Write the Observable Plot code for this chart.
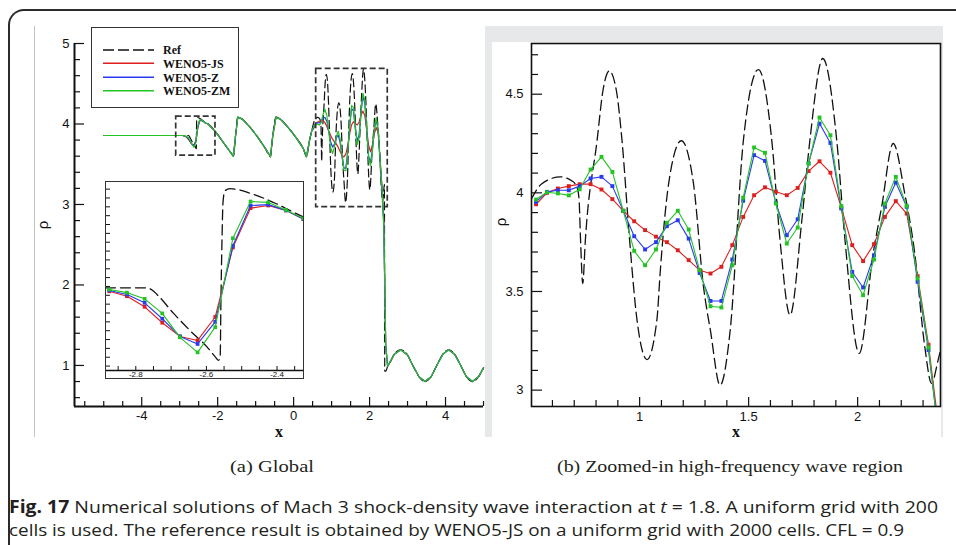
<!DOCTYPE html>
<html>
<head>
<meta charset="utf-8">
<script src="https://cdn.jsdelivr.net/npm/d3@7"></script>
<script src="https://cdn.jsdelivr.net/npm/@observablehq/plot@0.6"></script>
<style>
  html, body { margin:0; padding:0; background:#fff; }
  #root { position:relative; width:956px; height:545px; overflow:hidden; background:#fff; }
  .abs { position:absolute; }
  .frame { position:absolute; left:8px; top:9px; width:1000px; height:600px; border-left:2px solid #2b2b2b; border-top:2px solid #2b2b2b; border-top-left-radius:16px; box-sizing:border-box; }
  .fit { position:absolute; white-space:nowrap; transform-origin:0 50%; line-height:1; color:#231f20; }
  .serif { font-family:"Liberation Serif","Times New Roman",serif; }
  .sans { font-family:"Open Sans","Liberation Sans",sans-serif; }
  svg { display:block; }
  .lab { position:absolute; transform:translate(-50%,-50%); line-height:1; color:#111; }
</style>
</head>
<body>
<div id="root">
  <div class="frame"></div>
  <div class="abs" style="left:34px;top:26px;width:1px;height:411px;background:#c4c4c4"></div>
  <div class="abs" style="left:485px;top:26px;width:458px;height:411px;background:#e7e8ea"></div>
  <div class="abs" style="left:492px;top:42px;width:449px;height:395px;background:#fff"></div>
  <div id="mainPlot" class="abs" style="left:0;top:0;width:490px;height:440px"></div>
  <div id="insetPlot" class="abs" style="left:105px;top:181px;width:199px;height:198px"></div>
  <div id="legend" class="abs" style="left:91px;top:27px;width:148px;height:81px"></div>
  <div id="zoomPlot" class="abs" style="left:492px;top:42px;width:449px;height:395px"></div>

  <div class="lab" style="left:42px;top:225px;transform:translate(-50%,-50%) rotate(-90deg);font:15px 'Liberation Sans',Arial,sans-serif">ρ</div>
  <div class="lab serif" style="left:279px;top:432px;font-weight:bold;font-size:16px">x</div>
  <div class="lab" style="left:500px;top:222px;transform:translate(-50%,-50%) rotate(-90deg);font:15px 'Liberation Sans',Arial,sans-serif">ρ</div>
  <div class="lab serif" style="left:736px;top:432px;font-weight:bold;font-size:16px">x</div>

  <div class="fit serif" data-w="84" style="left:230px;top:458px;font-size:17px">(a) Global</div>
  <div class="fit serif" data-w="346" style="left:557px;top:458px;font-size:17px">(b) Zoomed-in high-frequency wave region</div>
  <div class="fit sans" data-w="929" style="left:9px;top:498px;font-size:17px"><b>Fig. 17</b> Numerical solutions of Mach 3 shock-density wave interaction at <i>t</i> = 1.8. A uniform grid with 200</div>
  <div class="fit sans" data-w="895" style="left:9px;top:521px;font-size:17px">cells is used. The reference result is obtained by WENO5-JS on a uniform grid with 2000 cells. CFL = 0.9</div>
</div>
<script>
// ---------------- data ----------------
const schemes = ["WENO5-JS", "WENO5-Z", "WENO5-ZM"];
const schemeColors = ["#de1f1f", "#2a3af2", "#22c322"];
const refLabel = "Ref";

// undisturbed pre-shock state (global view)
const leftX = [-5.0, -2.925];
const leftY = [3.857, 3.857];

// cells shown in the inset of panel (a)
const insetX  = [-2.875, -2.825, -2.775, -2.725, -2.675, -2.625, -2.575, -2.525, -2.475, -2.425, -2.375, -2.325];
const insetJS = [3.849, 3.838, 3.814, 3.778, 3.747, 3.738, 3.791, 3.948, 4.037, 4.043, 4.032, 4.012];
const insetZ  = [3.851, 3.842, 3.823, 3.787, 3.747, 3.730, 3.780, 3.952, 4.043, 4.045, 4.032, 4.012];
const insetZM = [3.853, 3.846, 3.832, 3.799, 3.745, 3.711, 3.768, 3.969, 4.052, 4.050, 4.033, 4.014];

// reference solution around the first wave (inset)
const refInsetX = [-2.886, -2.768, -2.754, -2.740, -2.693, -2.646, -2.599, -2.576, -2.566, -2.561, -2.559, -2.556, -2.553, -2.548, -2.533, -2.505, -2.477, -2.439, -2.402, -2.364, -2.320];
const refInsetY = [3.857, 3.857, 3.852, 3.842, 3.799, 3.760, 3.724, 3.702, 3.693, 3.700, 3.821, 3.960, 4.050, 4.076, 4.081, 4.078, 4.071, 4.060, 4.047, 4.032, 4.015];

// smooth sawtooth waves between the inset and the zoomed region (all solutions coincide)
const waveX = [-2.25, -2.05, -1.85, -1.65, -1.585, -1.53, -1.47, -1.35, -1.15, -0.95, -0.75, -0.61, -0.55, -0.465, -0.35, -0.15, 0.05, 0.25, 0.34, 0.42, 0.475];
const waveY = [4.00, 3.90, 3.77, 3.64, 3.60, 3.85, 4.085, 4.06, 3.96, 3.84, 3.70, 3.594, 3.85, 4.085, 4.06, 3.96, 3.84, 3.70, 3.594, 3.80, 3.91];

// cells of the high-frequency region, panel (b)
const zoomX  = [0.525, 0.575, 0.625, 0.675, 0.725, 0.775, 0.825, 0.875, 0.925, 0.975,
                1.025, 1.075, 1.125, 1.175, 1.225, 1.275, 1.325, 1.375, 1.425, 1.475,
                1.525, 1.575, 1.625, 1.675, 1.725, 1.775, 1.825, 1.875, 1.925, 1.975,
                2.025, 2.075, 2.125, 2.175, 2.225, 2.275, 2.325, 2.375];
const zoomJS = [3.942, 4.000, 4.022, 4.034, 4.044, 4.044, 4.017, 3.968, 3.909, 3.856,
                3.811, 3.778, 3.750, 3.709, 3.659, 3.608, 3.591, 3.625, 3.735, 3.878,
                3.988, 4.028, 4.006, 3.988, 4.025, 4.110, 4.160, 4.102, 3.925, 3.735,
                3.654, 3.740, 3.878, 3.958, 3.895, 3.578, 3.230, 2.780];
const zoomZ  = [3.954, 4.005, 4.013, 4.013, 4.034, 4.073, 4.081, 4.034, 3.909, 3.780,
                3.713, 3.750, 3.831, 3.861, 3.768, 3.594, 3.452, 3.452, 3.662, 3.960,
                4.191, 4.162, 3.949, 3.785, 3.866, 4.149, 4.351, 4.253, 3.921, 3.599,
                3.520, 3.684, 3.929, 4.052, 3.929, 3.549, 3.203, 2.740];
const zoomZM = [3.966, 4.003, 3.997, 3.987, 4.018, 4.118, 4.182, 4.106, 3.909, 3.706,
                3.633, 3.713, 3.848, 3.909, 3.814, 3.608, 3.425, 3.419, 3.633, 3.976,
                4.230, 4.203, 3.946, 3.743, 3.824, 4.149, 4.382, 4.292, 3.932, 3.578,
                3.481, 3.662, 3.946, 4.081, 3.934, 3.566, 3.216, 2.730];

// reference solution in the high-frequency region
const refZoomX = [0.504, 0.55, 0.637, 0.69, 0.712, 0.722, 0.729, 0.739, 0.751, 0.805, 0.832, 0.861, 0.893, 0.919, 0.954,
                  0.988, 1.034, 1.079, 1.095, 1.133, 1.191, 1.247, 1.293, 1.325, 1.369, 1.415, 1.476, 1.545, 1.606, 1.644,
                  1.690, 1.744, 1.781, 1.840, 1.904, 1.942, 2.007, 2.071, 2.110, 2.163, 2.216, 2.262, 2.308, 2.339, 2.369, 2.390];
const refZoomY = [3.97, 4.045, 4.081, 4.06, 4.03, 3.97, 3.76, 3.54, 3.76, 4.267, 4.52, 4.618, 4.52, 4.267, 3.76,
                  3.355, 3.155, 3.355, 3.608, 4.047, 4.264, 4.047, 3.523, 3.30, 3.025, 3.30, 4.267, 4.625, 4.267, 3.76,
                  3.380, 3.861, 4.267, 4.681, 4.267, 3.76, 3.186, 3.693, 3.929, 4.25, 3.997, 3.693, 3.219, 3.034, 3.152, 3.25];

// shock and post-shock sine wave
const shockNumX = [2.425];
const shockNumY = [1.25];
const shockRefX = [2.400, 2.430];
const shockRefY = [0.93, 0.93];
const postX = [2.475, 2.55, 2.65, 2.82, 3.00, 3.14, 3.30, 3.46, 3.62, 3.77, 3.93, 4.08, 4.24, 4.40, 4.55, 4.71, 4.87, 5.00];
const postY = [0.99, 1.05, 1.14, 1.195, 1.13, 1.00, 0.86, 0.80, 0.86, 1.00, 1.14, 1.195, 1.14, 1.00, 0.86, 0.80, 0.86, 0.97];

// dashed boxes of panel (a): [x1, x2, y1, y2]
const insetBox = [-3.092, -2.058, 3.608, 4.092];
const zoomBox  = [0.594, 2.479, 2.966, 4.685];

// tick labels
const mainXTicks  = [-4, -2, 0, 2, 4];
const mainYTicks  = [1, 2, 3, 4, 5];
const insetXTicks = [-2.8, -2.6, -2.4];
const zoomXTicks  = [1, 1.5, 2];
const zoomYTicks  = [3, 3.5, 4, 4.5];

// ---------------- helpers ----------------
const zip = (xs, ys) => xs.map((x, i) => ({x, y: ys[i]}));
const minor = (a, b, step, majors) => d3.range(Math.round((b - a) / step) + 1)
  .map(i => +(a + i * step).toFixed(4))
  .filter(v => !majors.some(m => Math.abs(m - v) < 1e-6));
const fmt = d => String(d);
const tickFont = "'Liberation Sans', Arial, Helvetica, sans-serif";
const baseStyle = fs => `background:transparent;max-width:none;overflow:visible;font-family:${tickFont};font-size:${fs}px;color:#111;`;
const inX = (vals, size, extra = {}) => Plot.axisX(vals, {tickSize: -size, tickFormat: () => "", label: null, strokeWidth: 1.2, ...extra});
const inY = (vals, size, extra = {}) => Plot.axisY(vals, {tickSize: -size, tickFormat: () => "", label: null, strokeWidth: 1.2, ...extra});

const insetVals = [insetJS, insetZ, insetZM];
const zoomVals = [zoomJS, zoomZ, zoomZM];

// ---------------- panel (a): global ----------------
const xMin = -5.77, xMax = 5.0, yMin = 0.49, yMax = 5.0;
const refGlobal = [
  ...zip([leftX[0]], [leftY[0]]), ...zip(refInsetX, refInsetY), ...zip(waveX, waveY),
  ...zip(refZoomX, refZoomY), ...zip(shockRefX, shockRefY), ...zip(postX, postY)
];
const numGlobal = schemes.map((s, i) => [
  ...zip(leftX, leftY), ...zip(insetX, insetVals[i]), ...zip(waveX, waveY),
  ...zip(zoomX, zoomVals[i]), ...zip(shockNumX, shockNumY), ...zip(postX, postY)
]);

const mainMarks = [
  Plot.line(refGlobal, {x: "x", y: "y", stroke: "#111", strokeWidth: 1.2, strokeDasharray: "8,4", curve: "monotone-x"}),
  ...numGlobal.map((pts, i) => Plot.line(pts, {x: "x", y: "y", stroke: schemeColors[i], strokeWidth: 1.2})),
  ...[insetBox, zoomBox].map(b => Plot.rect([b], {x1: d => d[0], x2: d => d[1], y1: d => d[2], y2: d => d[3], fill: "none", stroke: "#333", strokeWidth: 1.7, strokeDasharray: "6,3"})),
  Plot.ruleY([yMin], {x1: xMin, x2: xMax, strokeWidth: 2, stroke: "#111"}),
  Plot.ruleX([xMin], {y1: yMin, y2: yMax, strokeWidth: 2, stroke: "#111"}),
  inX(mainXTicks, 9),
  inX(minor(-5.5, 5, 0.5, mainXTicks), 5),
  inY(mainYTicks, 10),
  inY(minor(0.6, 4.8, 0.2, mainYTicks), 6),
  Plot.axisX(mainXTicks, {tickSize: 0, tickPadding: 4, tickFormat: fmt, label: null}),
  Plot.axisY(mainYTicks, {tickSize: 0, tickPadding: 5, tickFormat: fmt, label: null})
];
const mainChart = Plot.plot({
  width: 490, height: 440, marginLeft: 74, marginRight: 7, marginTop: 43, marginBottom: 34,
  x: {domain: [xMin, xMax]}, y: {domain: [yMin, yMax]},
  style: baseStyle(13),
  marks: mainMarks
});
document.getElementById("mainPlot").append(mainChart);

// ---------------- inset of panel (a) ----------------
const inMarks = [
  Plot.line(zip(refInsetX, refInsetY), {x: "x", y: "y", stroke: "#111", strokeWidth: 1.3, strokeDasharray: "10,5", curve: "monotone-x", clip: true}),
  ...schemes.flatMap((s, i) => [
    Plot.line(zip(insetX, insetVals[i]), {x: "x", y: "y", stroke: schemeColors[i], strokeWidth: 1.1, clip: true}),
    Plot.dot(zip(insetX, insetVals[i]), {x: "x", y: "y", symbol: "square", r: 2.1, fill: schemeColors[i], clip: true})
  ]),
  Plot.ruleY([3.67], {strokeWidth: 1.5, stroke: "#111"}),
  inX(minor(-2.85, -2.35, 0.05, []), 4, {strokeWidth: 1}),
  inY(minor(3.68, 4.08, 0.02, []), 4, {strokeWidth: 1}),
  Plot.axisX(insetXTicks, {tickSize: 0, tickPadding: 1, tickFormat: fmt, label: null})
];
const insetChart = Plot.plot({
  width: 197, height: 196, marginLeft: 0, marginRight: 0, marginTop: 0, marginBottom: 8,
  x: {domain: [-2.883, -2.325]}, y: {domain: [3.67, 4.095]},
  style: baseStyle(8) + "background:#fff;border:1px solid #333;",
  marks: inMarks
});
document.getElementById("insetPlot").append(insetChart);

// ---------------- legend ----------------
const legendItems = [{label: refLabel, color: "#111", dash: "11,4", w: 1.3},
  ...schemes.map((s, i) => ({label: s, color: schemeColors[i], dash: null, w: 1.5}))];
const lg = d3.select("#legend").append("svg").attr("width", 148).attr("height", 81);
lg.append("rect").attr("x", 0.5).attr("y", 0.5).attr("width", 147).attr("height", 80)
  .attr("fill", "#fff").attr("stroke", "#333").attr("stroke-width", 1);
const rowsY = [23, 36.3, 50.3, 63.7];
legendItems.forEach((d, i) => {
  lg.append("line").attr("x1", 12).attr("x2", 63).attr("y1", rowsY[i]).attr("y2", rowsY[i])
    .attr("stroke", d.color).attr("stroke-width", d.w).attr("stroke-dasharray", d.dash);
  lg.append("text").attr("x", 72).attr("y", rowsY[i]).attr("dy", "0.35em")
    .attr("font-family", "'Liberation Serif','Times New Roman',serif").attr("font-weight", "bold")
    .attr("font-size", 12).attr("fill", "#111").text(d.label);
});

// ---------------- panel (b): zoomed region ----------------
const zMarks = [
  Plot.line(zip(refZoomX, refZoomY), {x: "x", y: "y", stroke: "#111", strokeWidth: 1.3, strokeDasharray: "10,5", curve: "monotone-x", clip: true}),
  ...schemes.flatMap((s, i) => [
    Plot.line(zip(zoomX, zoomVals[i]), {x: "x", y: "y", stroke: schemeColors[i], strokeWidth: 1.1, clip: true}),
    Plot.dot(zip(zoomX, zoomVals[i]), {x: "x", y: "y", symbol: "square", r: 2.2, fill: schemeColors[i], clip: true})
  ]),
  Plot.frame({stroke: "#111", strokeWidth: 1.6}),
  inX(zoomXTicks, 9),
  inX(minor(0.6, 2.3, 0.1, zoomXTicks), 6),
  inY(zoomYTicks, 11),
  inY(minor(3.1, 4.7, 0.1, zoomYTicks), 7),
  Plot.axisX(zoomXTicks, {tickSize: 0, tickPadding: 5, tickFormat: fmt, label: null}),
  Plot.axisY(zoomYTicks, {tickSize: 0, tickPadding: 8, tickFormat: fmt, label: null})
];
const zoomChart = Plot.plot({
  width: 449, height: 395, marginLeft: 39, marginRight: 1, marginTop: 1, marginBottom: 31,
  x: {domain: [0.504, 2.38]}, y: {domain: [2.917, 4.757]},
  style: baseStyle(13),
  marks: zMarks
});
document.getElementById("zoomPlot").append(zoomChart);

// ---------------- fit text widths ----------------
document.querySelectorAll(".fit").forEach(el => {
  const w = el.getBoundingClientRect().width;
  if (w > 0) el.style.transform = `scaleX(${(+el.dataset.w / w).toFixed(4)})`;
});
</script>
</body>
</html>
